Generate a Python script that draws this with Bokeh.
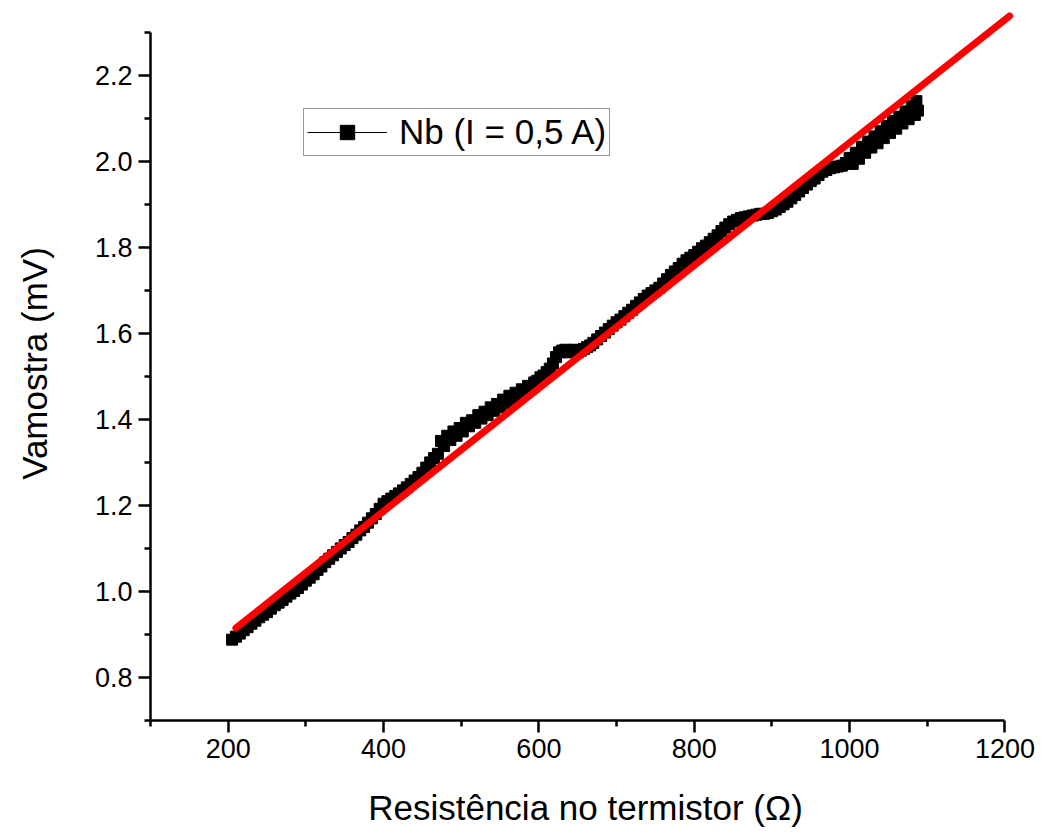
from bokeh.plotting import figure
from bokeh.models import Range1d, FixedTicker, Legend, LegendItem, ColumnDataSource, PrintfTickFormatter
from bokeh.embed import file_html
from bokeh.resources import INLINE

# Data
resistencia = [
    205, 210, 215, 220, 225, 230, 235, 240, 245, 250, 255, 260, 265, 270, 275, 280, 285, 290, 295, 300,
    305, 310, 315, 320, 325, 330, 335, 340, 345, 350, 355, 360, 365, 370, 375, 380, 385, 390, 395, 400,
    405, 410, 415, 420, 425, 430, 435, 440, 445, 450, 455, 460, 465, 470, 474, 478, 482, 486, 490, 494,
    498, 502, 506, 510, 514, 518, 522, 526, 530, 534, 538, 542, 546, 550, 554, 558, 562, 566, 570, 574,
    578, 582, 586, 590, 594, 598, 602, 606, 610, 614, 618, 622, 626, 630, 634, 638, 642, 646, 650, 654,
    658, 662, 666, 670, 675, 680, 685, 690, 695, 700, 705, 710, 715, 720, 725, 730, 735, 740, 745, 750,
    755, 760, 765, 770, 775, 780, 785, 790, 795, 800, 805, 810, 815, 820, 825, 830, 835, 840, 845, 850,
    855, 860, 865, 870, 875, 880, 885, 890, 895, 900, 905, 910, 915, 920, 925, 930, 935, 940, 945, 950,
    955, 960, 965, 970, 975, 980, 985, 990, 995, 1000, 1004, 1008, 1012, 1016, 1020, 1024, 1028, 1032,
    1036, 1040, 1044, 1048, 1052, 1056, 1060, 1064, 1068, 1072, 1076, 1080, 1084, 1086, 1088]
vamostra = [
    0.888, 0.895, 0.902, 0.910, 0.917, 0.925, 0.932, 0.940, 0.946, 0.952, 0.960, 0.968, 0.974, 0.980, 0.988,
    0.995, 1.001, 1.008, 1.016, 1.025,
    1.032, 1.040, 1.050, 1.058, 1.068, 1.076, 1.084, 1.092, 1.100, 1.108, 1.115, 1.124, 1.132, 1.142, 1.150,
    1.160, 1.170, 1.180, 1.192, 1.204,
    1.210, 1.216, 1.222, 1.228, 1.235, 1.242, 1.250, 1.258, 1.266, 1.276, 1.288, 1.300, 1.310, 1.320, 1.350,
    1.338, 1.362, 1.352, 1.372, 1.362,
    1.380, 1.372, 1.392, 1.384, 1.398, 1.392, 1.410, 1.402, 1.418, 1.410, 1.428, 1.420, 1.436, 1.428, 1.446,
    1.438, 1.455, 1.448, 1.462, 1.456,
    1.470, 1.466, 1.478, 1.474, 1.486, 1.490, 1.498, 1.502, 1.510, 1.518, 1.530, 1.545, 1.556, 1.560, 1.562,
    1.556, 1.560, 1.562, 1.556, 1.560,
    1.564, 1.568, 1.572, 1.578, 1.586, 1.594, 1.602, 1.610, 1.618, 1.626, 1.632, 1.640, 1.648, 1.655, 1.664,
    1.672, 1.680, 1.688, 1.694, 1.700,
    1.706, 1.716, 1.726, 1.736, 1.744, 1.752, 1.762, 1.770, 1.776, 1.782, 1.790, 1.798, 1.804, 1.812, 1.820,
    1.828, 1.838, 1.846, 1.854, 1.860,
    1.864, 1.868, 1.870, 1.872, 1.874, 1.876, 1.878, 1.878, 1.880, 1.884, 1.888, 1.894, 1.900, 1.906, 1.914,
    1.922, 1.930, 1.938, 1.946, 1.954,
    1.960, 1.968, 1.976, 1.980, 1.984, 1.986, 1.988, 1.990, 1.996, 2.008, 1.994, 2.020, 2.006, 2.034, 2.020,
    2.046, 2.032, 2.058,
    2.042, 2.070, 2.054, 2.082, 2.066, 2.094, 2.076, 2.104, 2.088, 2.116, 2.098, 2.128, 2.108, 2.140, 2.118]

fit_x = [210, 1206]
fit_y = [0.915, 2.338]

x_major = [200, 400, 600, 800, 1000, 1200]
x_minor = [100, 300, 500, 700, 900, 1100]
y_major = [0.8, 1.0, 1.2, 1.4, 1.6, 1.8, 2.0, 2.2]
y_minor = [0.7, 0.9, 1.1, 1.3, 1.5, 1.7, 1.9, 2.1, 2.3]

FONT = "Liberation Sans"

p = figure(width=1043, height=833, x_range=Range1d(100, 1220), y_range=Range1d(0.7, 2.36),
           output_backend="svg", toolbar_location=None,
           min_border_left=150, min_border_right=23, min_border_top=6, min_border_bottom=113)
p.outline_line_color = None
p.xgrid.visible = False
p.ygrid.visible = False
p.background_fill_color = "white"

src = ColumnDataSource(dict(x=resistencia, y=vamostra))
ln = p.line("x", "y", source=src, line_color="black", line_width=1)
sc = p.scatter("x", "y", source=src, marker="square", size=11, fill_color="black", line_color="black")
p.line(fit_x, fit_y, line_color="#ff0000", line_width=7, line_cap="round")

p.xaxis.ticker = FixedTicker(ticks=x_major, minor_ticks=x_minor)
p.yaxis.ticker = FixedTicker(ticks=y_major, minor_ticks=y_minor)
p.yaxis.formatter = PrintfTickFormatter(format="%.1f")
p.xaxis.bounds = (100, 1200)
p.yaxis.bounds = (0.7, 2.3)

for ax in (p.xaxis, p.yaxis):
    ax.axis_line_width = 2.5
    ax.axis_line_color = "black"
    ax.major_tick_line_width = 2.5
    ax.minor_tick_line_width = 2.5
    ax.major_tick_line_color = "black"
    ax.minor_tick_line_color = "black"
    ax.major_tick_in = 0
    ax.minor_tick_in = 0
    ax.major_tick_out = 12
    ax.minor_tick_out = 6
    ax.major_label_text_font = FONT
    ax.major_label_text_font_size = "27px"
    ax.major_label_text_color = "black"
    ax.axis_label_text_font = FONT
    ax.axis_label_text_font_size = "35px"
    ax.axis_label_text_font_style = "normal"
    ax.axis_label_text_color = "black"

p.xaxis.axis_label = "Resistência no termistor (Ω)"
p.yaxis.axis_label = "Vamostra (mV)"
p.xaxis.major_label_standoff = 6
p.yaxis.major_label_standoff = 6
p.xaxis.axis_label_standoff = 27
p.yaxis.axis_label_standoff = 38

legend = Legend(items=[LegendItem(label="Nb (I = 0,5 A)", renderers=[ln, sc])],
                location=(153, 564))
legend.label_text_font = FONT
legend.label_text_font_size = "35px"
legend.label_text_color = "black"
legend.glyph_width = 80
legend.glyph_height = 36
legend.label_height = 36
legend.label_standoff = 12
legend.padding = 3
legend.margin = 0
legend.spacing = 0
legend.border_line_color = "#333333"
legend.border_line_width = 1.5
legend.background_fill_alpha = 1
p.add_layout(legend)

open("out.html", "w").write(file_html(p, INLINE))
